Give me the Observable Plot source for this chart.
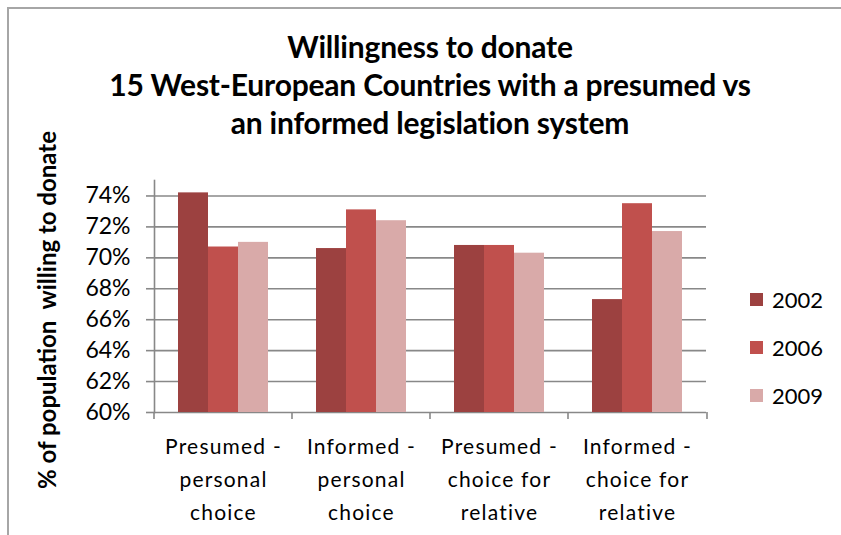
<!DOCTYPE html>
<html>
<head>
<meta charset="utf-8">
<script src="https://cdn.jsdelivr.net/npm/d3@7"></script>
<script src="https://cdn.jsdelivr.net/npm/@observablehq/plot@0.6"></script>
<style>
  body { margin: 0; background: #fff; }
  #wrap { position: relative; width: 841px; height: 535px; overflow: hidden; font-family: Lato, "Open Sans", sans-serif; color: #000; }
  #border { position: absolute; left: 7px; top: 7px; width: 1000px; height: 1000px; border-left: 2px solid #a6a6a6; border-top: 2px solid #a6a6a6; }
  #title { position: relative; width: 860px; height: 150px; box-sizing: border-box; padding-top: 27px; text-align: center; font-weight: bold; font-size: 30px; line-height: 38px; letter-spacing: -0.2px; }
  #ytitle { position: absolute; left: 46px; top: 310px; transform: translate(-50%, -50%) rotate(-90deg); white-space: nowrap; font-weight: bold; font-size: 24px; }
  #legend { position: absolute; left: 750px; top: 275px; }
  .li { display: flex; align-items: center; height: 48px; font-size: 22px; }
  .sw { width: 13px; height: 13px; margin-right: 9px; }
  #chart { position: absolute; left: 0; top: 150px; }
  #chart svg g[aria-label="fx-axis tick label"] text { letter-spacing: 1.2px; }
</style>
</head>
<body>
<div id="wrap">
  <div id="border"></div>
  <div id="title">Willingness to donate<br>15 West-European Countries with a presumed vs<br>an informed legislation system</div>
  <div id="chart"></div>
  <div id="ytitle">% of population&nbsp; willing to donate</div>
  <div id="legend"></div>
</div>
<script>
const categories = ["Presumed - personal choice", "Informed - personal choice", "Presumed - choice for relative", "Informed - choice for relative"];
const categoryLabels = ["Presumed -\npersonal\nchoice", "Informed -\npersonal\nchoice", "Presumed -\nchoice for\nrelative", "Informed -\nchoice for\nrelative"];
const years = ["2002", "2006", "2009"];
const values2002 = [74.2, 70.6, 70.8, 67.3];
const values2006 = [70.7, 73.1, 70.8, 73.5];
const values2009 = [71.0, 72.4, 70.3, 71.7];
const yTicks = [60, 62, 64, 66, 68, 70, 72, 74];
const colors = ["#9c4140", "#c0504d", "#d9aaa9"];

const series = [values2002, values2006, values2009];
const data = [];
categories.forEach((c, i) => years.forEach((y, j) => data.push({category: c, year: y, value: series[j][i]})));

const labelOf = new Map(categories.map((c, i) => [c, categoryLabels[i]]));
const grid = "#888888";

const plot = Plot.plot({
  width: 841,
  height: 385,
  marginTop: 30,
  marginBottom: 123,
  marginLeft: 153,
  marginRight: 134,
  style: {fontFamily: "Lato, 'Open Sans', sans-serif", color: "#000", background: "transparent"},
  fx: {domain: categories, paddingInner: 0, paddingOuter: 0},
  x: {domain: years, paddingInner: 0, paddingOuter: 0.76, axis: null},
  y: {domain: [60, 75]},
  color: {domain: years, range: colors},
  marks: [
    Plot.gridY({ticks: yTicks, stroke: grid, strokeOpacity: 1, strokeWidth: 1.6}),
    Plot.barY(data, {fx: "category", x: "year", y1: 60, y2: "value", fill: "year"}),
    Plot.frame({anchor: "left", facetAnchor: "left", stroke: grid, strokeOpacity: 1, strokeWidth: 1.6}),
    Plot.axisY({ticks: yTicks, tickFormat: d => d + "%", tickSize: 8, tickPadding: 16, fontSize: 23, stroke: grid, strokeOpacity: 1, strokeWidth: 1.6, label: null}),
    Plot.axisFx({anchor: "bottom", tickSize: 0, tickPadding: 18, fontSize: 21, lineHeight: 1.57, tickFormat: d => labelOf.get(d), label: null})
  ]
});
document.getElementById("chart").appendChild(plot);

// category boundary ticks below the baseline, placed with the plot's own scales
const fx = plot.scale("fx");
const yS = plot.scale("y");
const svg = d3.select(plot);
const y0 = yS.apply(60);
const bounds = categories.map(c => fx.apply(c)).concat([fx.range[1]]);
svg.append("g").selectAll("line").data(bounds).join("line")
  .attr("x1", d => d).attr("x2", d => d)
  .attr("y1", y0).attr("y2", y0 + 7)
  .attr("stroke", grid).attr("stroke-width", 1.6);

// legend
const lg = d3.select("#legend");
years.forEach((y, i) => {
  const row = lg.append("div").attr("class", "li");
  row.append("div").attr("class", "sw").style("background", colors[i]);
  row.append("span").text(y);
});
</script>
</body>
</html>
